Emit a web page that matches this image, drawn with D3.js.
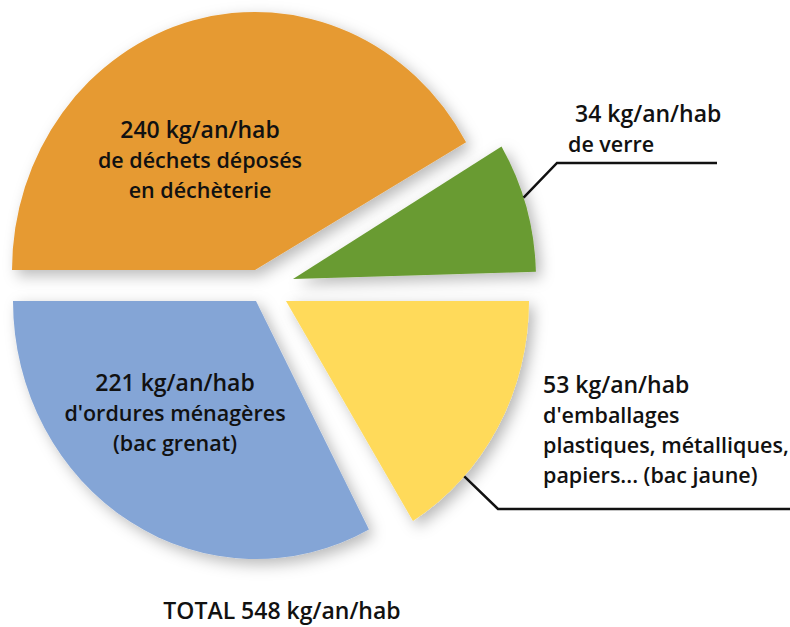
<!DOCTYPE html>
<html>
<head>
<meta charset="utf-8">
<script src="https://cdn.jsdelivr.net/npm/d3@7"></script>
<style>
  body { margin: 0; background: #fff; }
  text { font-family: "Open Sans", "Noto Sans", sans-serif; font-weight: 600; fill: #111; }
</style>
</head>
<body>
<svg class="pie_plot"></svg>
<script>
var width = 790, height = 627;

// values shown on the chart (kg/an/hab)
const categories = ["déchèterie", "verre", "emballages", "ordures ménagères"];
const values = [240, 34, 53, 221];
const total = 548;
const unit = "kg/an/hab";
const descriptions = [
  ["de déchets déposés", "en déchèterie"],
  ["de verre"],
  ["d'emballages", "plastiques, métalliques,", "papiers... (bac jaune)"],
  ["d'ordures ménagères", "(bac grenat)"]
];
// slice angles as drawn in the original (degrees, clockwise from 12 o'clock)
const startDeg = [-90, 59.1, 90, 152.3];
const endDeg   = [60.3, 88.4, 148.5, 270];

const colors = ["#E69A33", "#699B31", "#FFDA5A", "#84A5D6"];

// layout
const R = 243, stretchY = 1.062;
const apex = [[255, 270], [293, 279], [286, 301], [256, 301]];

var svg = d3.select("svg.pie_plot")
  .attr("width", width)
  .attr("height", height);

const defs = svg.append("defs");
const f = defs.append("filter").attr("id", "shadow")
  .attr("x", "-20%").attr("y", "-20%").attr("width", "150%").attr("height", "150%");
f.append("feDropShadow")
  .attr("dx", 5).attr("dy", 5)
  .attr("stdDeviation", 7)
  .attr("flood-color", "#000")
  .attr("flood-opacity", 0.28);

const rad = d3.scaleLinear().domain([0, 360]).range([0, 2 * Math.PI]);

const arc = d3.arc().innerRadius(0).outerRadius(R);

const slices = values.map((v, i) => ({
  value: v,
  name: categories[i],
  startAngle: rad(startDeg[i]),
  endAngle: rad(endDeg[i])
}));

svg.append("g").selectAll("path")
  .data(slices)
  .join("path")
    .attr("transform", (d, i) => `translate(${apex[i][0]},${apex[i][1]}) scale(1,${stretchY})`)
    .attr("d", arc)
    .attr("fill", (d, i) => colors[i])
    .attr("filter", "url(#shadow)");

// point on the rim of slice i at angle a (deg)
function rim(i, a) {
  const t = rad(a);
  return [apex[i][0] + R * Math.sin(t), apex[i][1] - R * Math.cos(t) * stretchY];
}

// leader lines for the two outside labels
const leaders = [
  { i: 1, a: 71.6, elbow: [557, 163], end: [717, 163] },
  { i: 2, a: 132.8, elbow: [498, 509], end: [790, 509] }
];
svg.append("g").selectAll("path")
  .data(leaders)
  .join("path")
    .attr("d", d => d3.line()([rim(d.i, d.a), d.elbow, d.end]))
    .attr("fill", "none")
    .attr("stroke", "#111")
    .attr("stroke-width", 2.5);

// labels
const labelPos = [
  { x: 200, y: 138, anchor: "middle", first: 0 },
  { x: 568, y: 152, anchor: "start", first: 575 },
  { x: 543, y: 393, anchor: "start", first: 543 },
  { x: 175, y: 391, anchor: "middle", first: 0 }
];
const lineH = 30;

labelPos.forEach((p, i) => {
  const lines = [`${values[i]} ${unit}`].concat(descriptions[i]);
  const t = svg.append("text")
    .attr("text-anchor", p.anchor)
    .style("font-size", "21.5px");
  lines.forEach((l, k) => {
    t.append("tspan")
      .attr("x", k === 0 && p.first ? p.first : p.x)
      .attr("y", i === 1 ? p.y - lineH * (1 - k) : p.y + lineH * k)
      .style("font-size", k === 0 ? "23px" : null)
      .text(l);
  });
});

svg.append("text")
  .attr("x", 282)
  .attr("y", 619)
  .attr("text-anchor", "middle")
  .style("font-size", "23px")
  .text(`TOTAL ${total} ${unit}`);
</script>
</body>
</html>
